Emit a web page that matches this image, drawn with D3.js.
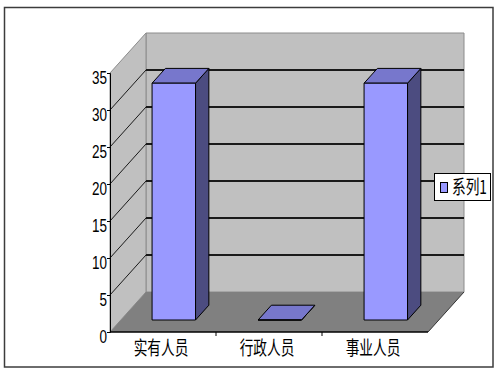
<!DOCTYPE html>
<html>
<head>
<meta charset="utf-8">
<script src="https://cdn.jsdelivr.net/npm/d3@7"></script>
<style>
  body { margin: 0; background: #fff; }
  svg { display: block; }
</style>
</head>
<body>
<div id="chart"></div>
<script>
// chart data
const categories = ["实有人员", "行政人员", "事业人员"];
const values = [32, 0, 32];
const yTicks = [0, 5, 10, 15, 20, 25, 30, 35];
const seriesName = "系列1";

function init() {
    var width = 500, height = 375;

    var svg = d3.select('#chart')
                .append('svg')
                .attr('width', width)
                .attr('height', height);

    // front plane scales, depth goes up-right
    var xScale = d3.scaleBand()
                    .domain(categories)
                    .range([110, 428]);
    var yScale = d3.scaleLinear()
                    .domain([0, 35])
                    .range([332, 73]);
    var depthX = 36, depthY = 40;

    function proj(x, v, d) {
        return [x + d * depthX, yScale(v) - d * depthY];
    }
    function poly(pts) {
        return 'M' + pts.map(p => p.join(',')).join('L') + 'Z';
    }

    var x0 = xScale.range()[0], x1 = xScale.range()[1];
    var vMax = yScale.domain()[1];

    // outer frame
    svg.append('rect')
        .attr('x', 4.5).attr('y', 7.5)
        .attr('width', 488.5).attr('height', 359.5)
        .attr('fill', '#fff')
        .attr('stroke', '#3c3c3c')
        .attr('stroke-width', 1.5);

    // back wall
    svg.append('path')
        .attr('d', poly([proj(x0, 0, 1), proj(x0, vMax, 1), proj(x1, vMax, 1), proj(x1, 0, 1)]))
        .attr('fill', '#c0c0c0')
        .attr('stroke', '#8c8c8c')
        .attr('stroke-width', 1);

    // side wall
    svg.append('path')
        .attr('d', poly([proj(x0, 0, 0), proj(x0, vMax, 0), proj(x0, vMax, 1), proj(x0, 0, 1)]))
        .attr('fill', '#c0c0c0')
        .attr('stroke', '#8c8c8c')
        .attr('stroke-width', 1);

    // floor
    svg.append('path')
        .attr('d', poly([proj(x0, 0, 0), proj(x1, 0, 0), proj(x1, 0, 1), proj(x0, 0, 1)]))
        .attr('fill', '#808080')
        .attr('stroke', 'none');
    svg.append('line')
        .attr('x1', proj(x1, 0, 0)[0]).attr('y1', proj(x1, 0, 0)[1])
        .attr('x2', proj(x1, 0, 1)[0]).attr('y2', proj(x1, 0, 1)[1])
        .attr('stroke', '#333');

    // gridlines on back and side walls
    var inner = yTicks.filter(t => t > 0 && t < vMax);
    var grid = svg.append('g').attr('stroke', '#1a1a1a');
    grid.selectAll('.back')
        .data(inner).enter()
        .append('line')
        .attr('x1', d => proj(x0, d, 1)[0]).attr('y1', d => proj(x0, d, 1)[1])
        .attr('x2', d => proj(x1, d, 1)[0]).attr('y2', d => proj(x1, d, 1)[1])
        .attr('stroke-width', 2);
    grid.selectAll('.side')
        .data(inner).enter()
        .append('line')
        .attr('x1', d => proj(x0, d, 0)[0]).attr('y1', d => proj(x0, d, 0)[1])
        .attr('x2', d => proj(x0, d, 1)[0]).attr('y2', d => proj(x0, d, 1)[1])
        .attr('stroke-width', 1);

    // axes on the front plane
    svg.append('g')
        .attr('transform', `translate(${x0}, 0)`)
        .call(d3.axisLeft(yScale).tickValues(yTicks).tickSize(3).tickFormat(''))
        .call(g => g.select('.domain').attr('stroke', '#000'))
        .call(g => g.selectAll('.tick line').attr('stroke', '#000'));

    var xAxis = svg.append('g')
        .attr('transform', `translate(0, ${yScale(0)})`);
    xAxis.append('line')
        .attr('x1', x0).attr('x2', x1)
        .attr('stroke', '#000').attr('stroke-width', 1.5);
    xAxis.selectAll('.xt')
        .data(categories.slice(1)).enter()
        .append('line')
        .attr('x1', d => xScale(d)).attr('x2', d => xScale(d))
        .attr('y1', 0).attr('y2', 4)
        .attr('stroke', '#000');

    // y tick labels
    svg.append('g')
        .selectAll('text')
        .data(yTicks).enter()
        .append('text')
        .attr('transform', d => `translate(107, ${yScale(d) + 4}) scale(0.71, 1)`)
        .attr('text-anchor', 'end')
        .attr('dominant-baseline', 'central')
        .style('font-family', '"Liberation Sans", Arial, sans-serif')
        .style('font-size', '19px')
        .style('fill', '#000')
        .text(d => d);

    // category labels
    svg.append('g')
        .selectAll('text')
        .data(categories).enter()
        .append('text')
        .attr('transform', d => `translate(${xScale(d) + xScale.bandwidth() / 2 - 2}, 355) scale(0.72, 1)`)
        .attr('text-anchor', 'middle')
        .style('font-family', '"Noto Sans CJK SC", sans-serif')
        .style('font-size', '19px')
        .style('fill', '#000')
        .text(d => d);

    // 3d bars
    var barW = xScale.bandwidth() * 0.41;
    var dFront = 0.3, dBack = 0.67;
    var bars = svg.append('g')
        .attr('stroke', '#000')
        .attr('stroke-width', 1)
        .attr('stroke-linejoin', 'round');

    categories.forEach(function(c, i) {
        var v = values[i];
        var left = xScale(c) + (xScale.bandwidth() - barW) / 2;
        var right = left + barW;
        // side
        bars.append('path')
            .attr('d', poly([proj(right, 0, dFront), proj(right, v, dFront), proj(right, v, dBack), proj(right, 0, dBack)]))
            .attr('fill', '#4c4c80');
        // top
        bars.append('path')
            .attr('d', poly([proj(left, v, dFront), proj(right, v, dFront), proj(right, v, dBack), proj(left, v, dBack)]))
            .attr('fill', '#7777cc');
        // front
        bars.append('path')
            .attr('d', poly([proj(left, 0, dFront), proj(left, v, dFront), proj(right, v, dFront), proj(right, 0, dFront)]))
            .attr('fill', '#9999ff');
    });

    // legend
    var legend = svg.append('g').attr('transform', 'translate(434, 173)');
    legend.append('rect')
        .attr('x', 0.5).attr('y', 0.5)
        .attr('width', 56).attr('height', 27)
        .attr('fill', '#fff')
        .attr('stroke', '#000');
    legend.append('rect')
        .attr('x', 6.5).attr('y', 9.5)
        .attr('width', 7).attr('height', 10)
        .attr('fill', '#9999ff')
        .attr('stroke', '#000');
    legend.append('text')
        .attr('transform', 'translate(18, 21) scale(0.72, 1)')
        .style('font-family', '"Noto Sans CJK SC", sans-serif')
        .style('font-size', '19px')
        .style('fill', '#000')
        .text(seriesName);
}

window.onload = init;
</script>
</body>
</html>
